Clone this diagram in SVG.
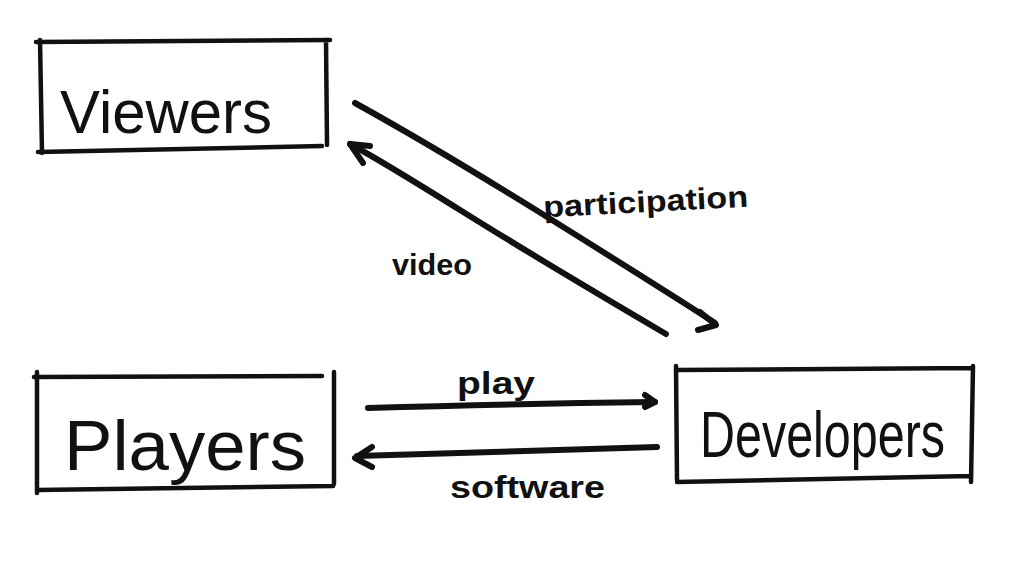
<svg xmlns="http://www.w3.org/2000/svg" width="1024" height="586" viewBox="0 0 1024 586">
<style>
.box{fill:none;stroke:#111;stroke-width:4.5;stroke-linecap:round;stroke-linejoin:round}
.con{fill:none;stroke:#111;stroke-width:6;stroke-linecap:round;stroke-linejoin:round}
.big{font-family:"Liberation Sans",Arial,sans-serif;fill:#111}
.lbl{font-family:"Liberation Sans",Arial,sans-serif;font-weight:bold;fill:#111}
</style>
<rect width="1024" height="586" fill="#fff"/>
<g id="viewers">
<path class="box" d="M36 42 L330 40 M40 40 L42 153 M38 152 L322 146 M326 40 L327 145"/>
<text class="big" x="60" y="133" font-size="62" textLength="212" lengthAdjust="spacingAndGlyphs">Viewers</text>
</g>
<g id="players">
<path class="box" d="M34 377 L322 376 M37 372 L37 493 M37 490 L333 486 M334 372 L334 484"/>
<text class="big" x="64" y="470" font-size="70" textLength="242" lengthAdjust="spacingAndGlyphs">Players</text>
</g>
<g id="developers">
<path class="box" d="M676 370 L973 368 M676 366 L677 480 M677 482 L970 476 M973 366 L971 482"/>
<text class="big" x="700" y="457" font-size="64" textLength="245" lengthAdjust="spacingAndGlyphs">Developers</text>
</g>
<g id="connectors">
<path class="con" d="M355 103 Q440 150 560 225 T715 323"/>
<path class="con" d="M700 312 L716 325 L698 330"/>
<path class="con" d="M666 334 Q540 260 460 210 T350 144"/>
<path class="con" d="M370 146 L350 144 L363 163"/>
<path class="con" d="M368 408 Q500 404 655 402"/>
<path class="con" d="M645 395 L655 402 L645 407"/>
<path class="con" d="M657 447 Q500 452 357 456"/>
<path class="con" d="M372 447 L355 458 L372 467"/>
</g>
<g id="labels">
<text class="lbl" x="543" y="212" font-size="30" textLength="205" lengthAdjust="spacingAndGlyphs" transform="rotate(-3 645 200)">participation</text>
<text class="lbl" x="392" y="275" font-size="30" textLength="80" lengthAdjust="spacingAndGlyphs">video</text>
<text class="lbl" x="457" y="394" font-size="32" textLength="78" lengthAdjust="spacingAndGlyphs">play</text>
<text class="lbl" x="450" y="498" font-size="32" textLength="155" lengthAdjust="spacingAndGlyphs">software</text>
</g>
</svg>
